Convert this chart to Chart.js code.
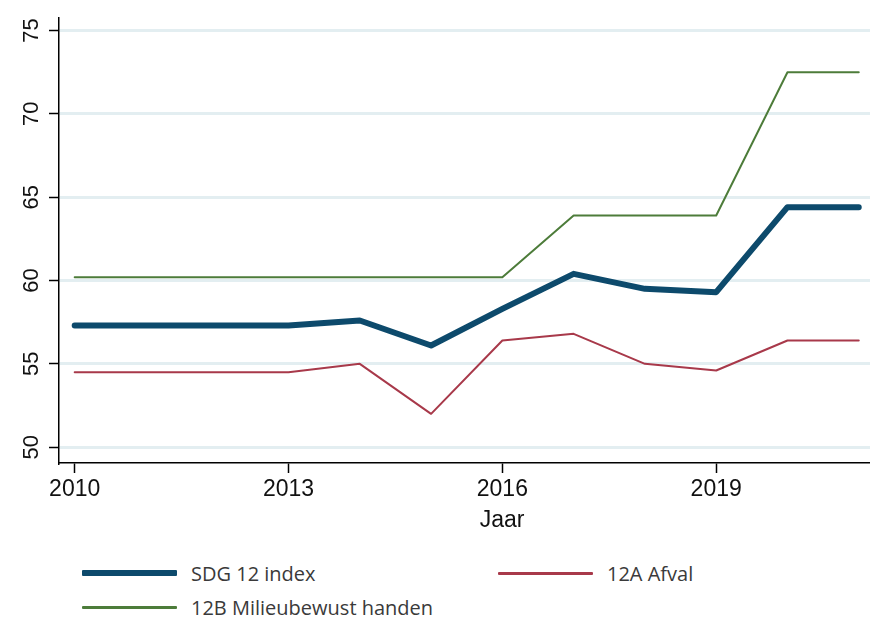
<!DOCTYPE html>
<html>
<head>
<meta charset="utf-8">
<script src="https://cdn.jsdelivr.net/npm/chart.js@4"></script>
<style>
    html, body { margin: 0; padding: 0; background: #fff; overflow: hidden; }
    .wrap { position: relative; width: 870px; height: 617px; overflow: hidden; }
    canvas { position: absolute; left: 0; top: 0; }
    .legend {
        position: absolute; left: 82px; top: 559px;
        display: grid; grid-template-columns: 416px 300px; row-gap: 6px;
        font-family: "Open Sans", sans-serif; font-size: 20px; color: #3a3a3a;
    }
    .legend-item { display: flex; align-items: center; height: 28px; }
    .legend-swatch { width: 95px; margin-right: 14px; border-radius: 1px; }
</style>
</head>
<body>
<div class="wrap">
    <canvas id="chart" width="945" height="545"></canvas>
    <div class="legend" id="legend"></div>
</div>
<script>
const years = [2010, 2011, 2012, 2013, 2014, 2015, 2016, 2017, 2018, 2019, 2020, 2021];
const sdgIndex = [57.3, 57.3, 57.3, 57.3, 57.6, 56.1, 58.3, 60.4, 59.5, 59.3, 64.4, 64.4];
const afval = [54.5, 54.5, 54.5, 54.5, 55.0, 52.0, 56.4, 56.8, 55.0, 54.6, 56.4, 56.4];
const milieu = [60.2, 60.2, 60.2, 60.2, 60.2, 60.2, 60.2, 63.9, 63.9, 63.9, 72.5, 72.5];
const xTicks = [2010, 2013, 2016, 2019];
const yTicks = [50, 55, 60, 65, 70, 75];
const seriesNames = ["SDG 12 index", "12A Afval", "12B Milieubewust handen"];

const toPoints = values => years.map((yr, i) => ({ x: yr, y: values[i] }));
const tickFont = { family: "'Liberation Sans', Arial, sans-serif", size: 21 };

const chart = new Chart(document.getElementById("chart"), {
    type: "line",
    data: {
        datasets: [
            { label: seriesNames[0], data: toPoints(sdgIndex), borderColor: "#0d4a6c", borderWidth: 6 },
            { label: seriesNames[1], data: toPoints(afval), borderColor: "#a8394a", borderWidth: 2 },
            { label: seriesNames[2], data: toPoints(milieu), borderColor: "#4d7c3a", borderWidth: 2 }
        ]
    },
    options: {
        responsive: false,
        animation: false,
        layout: { padding: { top: 13, right: 0, bottom: 11, left: 0 } },
        elements: {
            point: { radius: 0 },
            line: { tension: 0, borderCapStyle: "round", borderJoinStyle: "round", fill: false }
        },
        plugins: { legend: { display: false }, tooltip: { enabled: false } },
        scales: {
            x: {
                type: "linear",
                min: 2009.78,
                max: 2022.21,
                afterBuildTicks: s => { s.ticks = xTicks.map(v => ({ value: v })); },
                afterFit: s => { s.height = 71; },
                border: { color: "#000", width: 1.5 },
                grid: { drawOnChartArea: false, tickColor: "#000", tickLength: 10, tickWidth: 1.5 },
                ticks: { font: { ...tickFont, size: 23 }, color: "#111", padding: 3, maxRotation: 0, callback: v => String(v) },
                title: { display: true, text: "Jaar", font: { ...tickFont, size: 23 }, color: "#111", padding: 0 }
            },
            y: {
                min: 49.05,
                max: 75.74,
                afterBuildTicks: s => { s.ticks = yTicks.map(v => ({ value: v })); },
                afterFit: s => { s.width = 59; },
                border: { color: "#000", width: 1.5 },
                grid: { color: "#e3eef1", lineWidth: 3, tickColor: "#000", tickLength: 10, tickWidth: 1.5 },
                ticks: { font: { ...tickFont, size: 22 }, color: "#111", padding: 5, minRotation: 90, maxRotation: 90, crossAlign: "center" }
            }
        }
    }
});

// legend in two columns, built from the chart's datasets
const legendEl = document.getElementById("legend");
chart.data.datasets.forEach(ds => {
    const item = document.createElement("div");
    item.className = "legend-item";
    const sw = document.createElement("div");
    sw.className = "legend-swatch";
    sw.style.height = (ds.borderWidth === 6 ? 6 : 3) + "px";
    sw.style.background = ds.borderColor;
    const txt = document.createElement("span");
    txt.textContent = ds.label;
    item.appendChild(sw);
    item.appendChild(txt);
    legendEl.appendChild(item);
});
</script>
</body>
</html>
